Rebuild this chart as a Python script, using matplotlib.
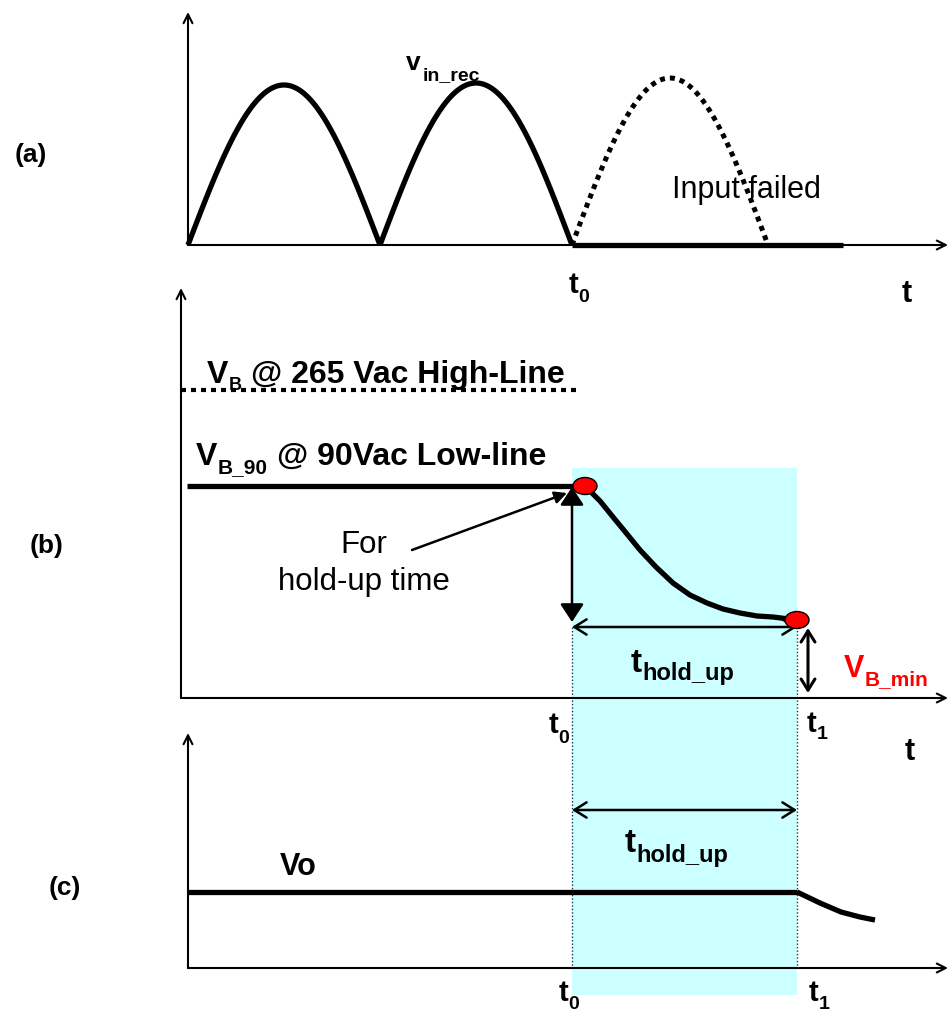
import numpy as np
import matplotlib
matplotlib.use("Agg")
from matplotlib import pyplot as plt
from matplotlib.patches import Rectangle, Ellipse

plt.rcParams['font.family'] = ['Liberation Sans', 'DejaVu Sans']

# drawing is laid out in pixel units, y pointing down
W, H = 949, 1017

# panel (a): rectified input, zero crossings and peak heights
hump_edges = [188, 380, 572]
hump_peaks = [85, 83]
lost_hump = [572, 768]
lost_peak = 78
a_base = 245
a_failed_end = 843

# panel (b): bulk capacitor voltage
b_base = 698
vb_high = 390
vb_90 = 486
t0_x = 572
t1_x = 797
decay_x = [585, 600, 613, 627, 640, 656, 673, 690, 707, 723, 740, 757, 773, 797]
decay_y = [486, 501, 517, 534, 550, 567, 583, 595, 603, 609, 613, 616, 617, 620]

# panel (c): output voltage
c_base = 968
vo_level = 892
vo_tail_x = [797, 820, 841, 860, 875]
vo_tail_y = [892, 903, 912, 917, 920]

fig = plt.figure(figsize=(W / 100, H / 100), dpi=100)
ax = fig.add_axes([0, 0, 1, 1])
ax.set_xlim(0, W)
ax.set_ylim(H, 0)
ax.axis('off')

LW_AX = 1.5
LW_THICK = 3.8


def axis_arrow(x0, y0, x1, y1):
    ax.annotate('', xy=(x1, y1), xytext=(x0, y0),
                arrowprops=dict(arrowstyle='->', lw=LW_AX, color='black',
                                mutation_scale=16, shrinkA=0, shrinkB=0))


def dim_arrow(x0, y0, x1, y1, style, lw=1.8, scale=22):
    ax.annotate('', xy=(x1, y1), xytext=(x0, y0),
                arrowprops=dict(arrowstyle=style, lw=lw, color='black',
                                mutation_scale=scale, shrinkA=0, shrinkB=0))


def sub_label(x, y, main, sub, size, subsize, drop, color='black', gap=0.0):
    # main letter on baseline y, subscript baseline `drop` pixels lower
    t = ax.text(x, y, main, fontsize=size, fontweight='bold', color=color,
                ha='left', va='baseline')
    s = ax.annotate(sub, xy=(1, y + drop), xycoords=(t, 'data'),
                    xytext=(gap, 0), textcoords='offset points',
                    fontsize=subsize, fontweight='bold', color=color,
                    ha='left', va='baseline')
    return s


def after(artist, y, text, size, gap=4):
    ax.annotate(text, xy=(1, y), xycoords=(artist, 'data'),
                xytext=(gap, 0), textcoords='offset points', fontsize=size,
                fontweight='bold', ha='left', va='baseline')


# shaded hold-up window
ax.add_patch(Rectangle((t0_x, 468), t1_x - t0_x, 995 - 468,
                       facecolor='#ccffff', edgecolor='none', zorder=0))
for xv in (t0_x, t1_x):
    ax.plot([xv, xv], [627, c_base], color='#223344', lw=1.0,
            linestyle=(0, (1, 1.5)), zorder=1)

# ---- (a) ----
axis_arrow(188, a_base, W - 1, a_base)
axis_arrow(188, a_base, 188, 12)
for (xa, xb), pk in zip(zip(hump_edges[:-1], hump_edges[1:]), hump_peaks):
    xs = np.linspace(xa, xb, 120)
    ys = a_base - (a_base - pk) * np.sin(np.pi * (xs - xa) / (xb - xa))
    ax.plot(xs, ys, color='black', lw=LW_THICK, solid_capstyle='butt')
xs = np.linspace(lost_hump[0], lost_hump[1], 120)
ys = a_base - (a_base - lost_peak) * np.sin(np.pi * (xs - lost_hump[0]) / (lost_hump[1] - lost_hump[0]))
ax.plot(xs, ys, color='black', lw=3.6, linestyle=(0, (1, 1)),
        dash_capstyle='butt')
ax.plot([t0_x, a_failed_end], [a_base, a_base], color='black', lw=LW_THICK,
        solid_capstyle='butt')

ax.text(31, 162, '(a)', fontsize=19, fontweight='bold', ha='center',
        va='baseline')
sub_label(406, 70, 'v', 'in_rec', 19, 14, 10, gap=1.5)
ax.text(746, 198, 'Input failed', fontsize=22, ha='center', va='baseline')
sub_label(569, 293, 't', '0', 21, 14, 9)
ax.text(907, 302, 't', fontsize=22, fontweight='bold', ha='center',
        va='baseline')

# ---- (b) ----
axis_arrow(181, b_base, W - 1, b_base)
axis_arrow(181, b_base, 181, 288)
ax.plot([181, 577], [vb_high, vb_high], color='black', lw=3.0,
        linestyle=(0, (1.2, 1.2)), dash_capstyle='butt')
ax.plot([187, 580], [vb_90, vb_90], color='black', lw=LW_THICK,
        solid_capstyle='butt')
ax.plot(decay_x, decay_y, color='black', lw=LW_THICK, solid_capstyle='round')
for px, py in ((decay_x[0], decay_y[0]), (decay_x[-1], decay_y[-1])):
    ax.add_patch(Ellipse((px, py), 24, 17, facecolor='red',
                         edgecolor='black', lw=1.0, zorder=5))

s = sub_label(207, 383, 'V', 'B', 23, 13, 7)
after(s, 383, '@ 265 Vac High-Line', 23, gap=7)
s = sub_label(196, 465, 'V', 'B_90', 23, 15, 8)
after(s, 465, '@ 90Vac Low-line', 23, gap=7)

ax.text(364, 553, 'For', fontsize=22.5, ha='center', va='baseline')
ax.text(364, 590, 'hold-up time', fontsize=22.5, ha='center', va='baseline')
dim_arrow(412, 550, 567, 493, '-|>', scale=18)

dim_arrow(t0_x, 622, t0_x, 487, '<|-|>,head_length=0.55,head_width=0.36',
          scale=20)
dim_arrow(t0_x, 627, t1_x, 627, '<->,head_length=0.4,head_width=0.25')
dim_arrow(808, 628, 808, 693, '<->,head_length=0.4,head_width=0.25', lw=2.2,
          scale=20)

sub_label(631, 672, 't', 'hold_up', 24, 17, 8)
sub_label(844, 677, 'V', 'B_min', 22, 15, 8, color='red')
sub_label(549, 733, 't', '0', 21, 14, 10)
sub_label(807, 732, 't', '1', 21, 14, 7)
ax.text(910, 760, 't', fontsize=22, fontweight='bold', ha='center',
        va='baseline')
ax.text(47, 553, '(b)', fontsize=19, fontweight='bold', ha='center',
        va='baseline')

# ---- (c) ----
axis_arrow(188, c_base, W - 1, c_base)
axis_arrow(188, c_base, 188, 733)
ax.plot([188, t1_x], [vo_level, vo_level], color='black', lw=LW_THICK,
        solid_capstyle='butt')
ax.plot(vo_tail_x, vo_tail_y, color='black', lw=LW_THICK,
        solid_capstyle='butt')
dim_arrow(t0_x, 810, t1_x, 810, '<->,head_length=0.4,head_width=0.25')
sub_label(625, 852, 't', 'hold_up', 24, 17, 10)
ax.text(280, 875, 'Vo', fontsize=22, fontweight='bold', ha='left',
        va='baseline')
sub_label(559, 1001, 't', '0', 21, 14, 8)
sub_label(809, 1001, 't', '1', 21, 14, 8)
ax.text(65, 895, '(c)', fontsize=19, fontweight='bold', ha='center',
        va='baseline')

fig.savefig('out.png', dpi=100)
